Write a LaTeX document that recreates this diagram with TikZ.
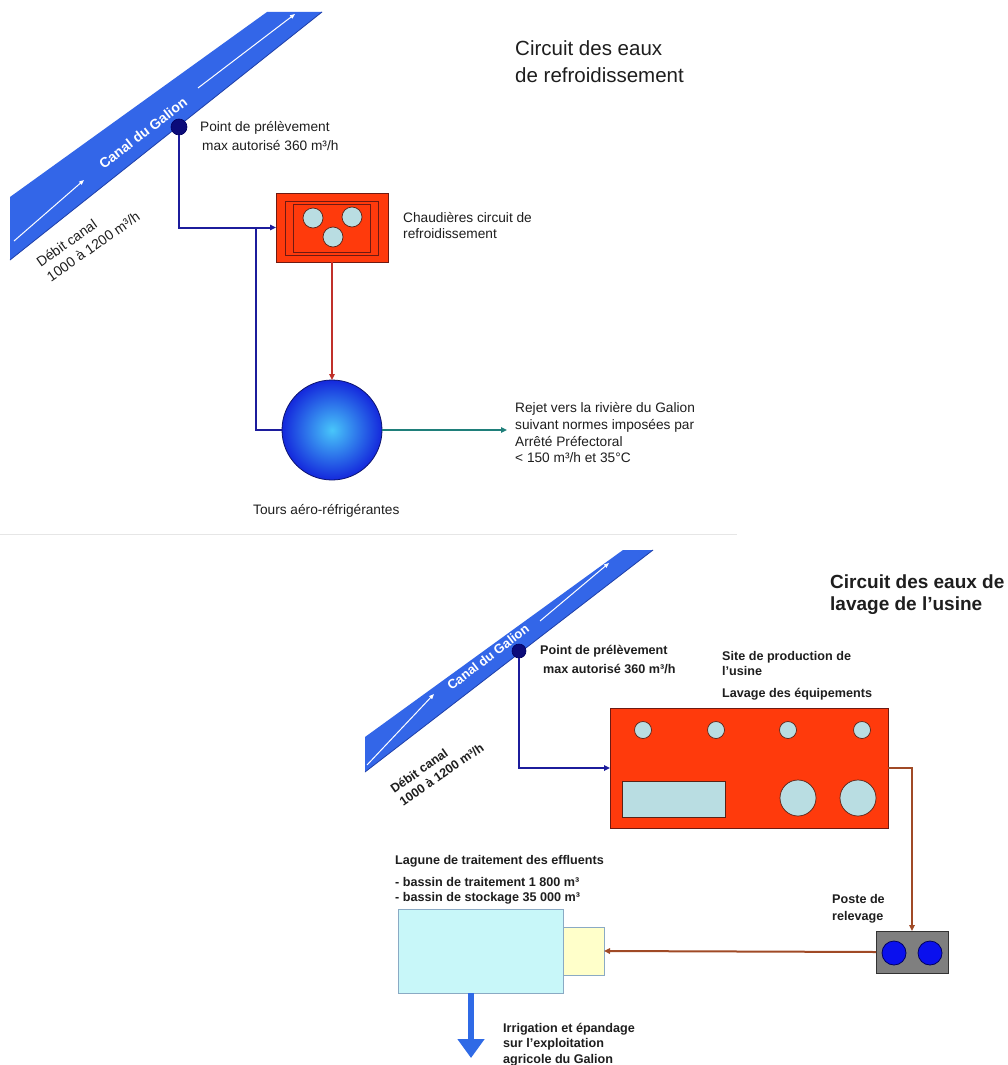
\documentclass[tikz,border=0pt]{standalone}
\usepackage{tikz}
\usepackage{fontspec}
\setmainfont{Liberation Sans}
\usetikzlibrary{arrows.meta}
\definecolor{txtc}{HTML}{1E1E1E}
\definecolor{canal}{HTML}{3366E8}
\definecolor{canaledge}{HTML}{1F3FA8}
\definecolor{dotc}{HTML}{0B0B7A}
\definecolor{navyline}{HTML}{1C1C9C}
\definecolor{boxred}{HTML}{FF3A0C}
\definecolor{boxedge}{HTML}{6E1A12}
\definecolor{vesfill}{HTML}{B9DDE2}
\definecolor{vesedge}{HTML}{5A2216}
\definecolor{redline}{HTML}{C0302A}
\definecolor{sphIn}{HTML}{48C6FA}
\definecolor{sphOut}{HTML}{1428DC}
\definecolor{sphedge}{HTML}{0C1470}
\definecolor{tealline}{HTML}{1F7F7A}
\definecolor{brownline}{HTML}{A04A26}
\definecolor{postegray}{HTML}{7F7F7F}
\definecolor{pumpblue}{HTML}{0A10EE}
\definecolor{pumpedge}{HTML}{000060}
\definecolor{lagcyan}{HTML}{C8F7F9}
\definecolor{lagedge}{HTML}{8AAAC4}
\definecolor{lagyellow}{HTML}{FFFFCA}
\definecolor{irrblue}{HTML}{2F6AE6}
\definecolor{paneledge}{HTML}{E6E6E6}
\begin{document}
\begin{tikzpicture}[x=1pt,y=-1pt,
  txt/.style={anchor=base west,inner sep=0pt,text=txtc,font=\fontsize{13.7}{16}\selectfont},
  btxt/.style={anchor=base west,inner sep=0pt,text=txtc,font=\bfseries\fontsize{12.6}{15}\selectfont},
  ttl/.style={anchor=base west,inner sep=0pt,text=txtc,font=\fontsize{20.5}{24}\selectfont},
  bttl/.style={anchor=base west,inner sep=0pt,text=txtc,font=\bfseries\fontsize{19}{22}\selectfont},
  redbox/.style={rectangle,draw=boxedge,fill=boxred,line width=0.8pt,inner sep=0pt,outer sep=0pt},
  vessel/.style={circle,draw=vesedge,fill=vesfill,line width=0.7pt,inner sep=0pt,outer sep=0pt,minimum size=#1},
  pump/.style={circle,draw=pumpedge,fill=pumpblue,line width=0.8pt,inner sep=0pt,outer sep=0pt,minimum size=24pt},
  intake/.style={circle,fill=dotc,draw=pumpedge,line width=0.6pt,inner sep=0pt,outer sep=0pt,minimum size=#1},
  flowtip/.style={-{Triangle[length=6pt,width=5.5pt]}},
  bluepipe/.style={navyline,line width=2pt},
  redpipe/.style={redline,line width=2pt},
  tealpipe/.style={tealline,line width=2pt},
  brownpipe/.style={brownline,line width=2pt},
  canalarrow/.style={white,line width=1pt,-{Triangle[length=5pt,width=4pt]}},
  canaltxt/.style={text=white,inner sep=0pt,font=\bfseries\fontsize{14}{16}\selectfont},
]
\useasboundingbox (0,0) rectangle (1008,1065);
\fill[white] (0,0) rectangle (1008,1065);

% ================= TOP PANEL =================
\draw[paneledge,line width=1pt] (0,534) -- (737,534);

% canal band
\fill[canal] (10,197) -- (267,12) -- (322,12) -- (10,260) -- cycle;
\draw[canaledge,line width=0.8pt] (10,260) -- (322,12);
\draw[canalarrow] (14,241) -- (84,180);
\draw[canalarrow] (198,88) -- (295,14);
\node[canaltxt,rotate=37.5] (canalA) at (143,133) {Canal du Galion};
\node[rotate=35,align=left,inner sep=0pt,text=txtc,font=\fontsize{14}{18}\selectfont] (debitA) at (88,239) {Débit canal\\1000 à 1200 m³/h};

% title
\node[ttl] (ttlA1) at (515,56) {Circuit des eaux};
\node[ttl] (ttlA2) at (515,82) {de refroidissement};

% intake point
\node[intake=16pt] (ptA) at (179,127) {};
\node[txt] (ptAl1) at (200,131) {Point de prélèvement};
\node[txt] (ptAl2) at (202,150) {max autorisé 360 m³/h};

% boilers
\node[redbox,minimum width=112pt,minimum height=69pt] (boiler) at (332,227.5) {};
\draw[boxedge,line width=0.8pt] (285,201) rectangle (378,255);
\draw[boxedge,line width=0.8pt] (293,204) rectangle (370,252);
\node[vessel=20pt] (bA) at (313,218) {};
\node[vessel=20pt] (bB) at (352,217) {};
\node[vessel=20pt] (bC) at (333,237) {};
\node[txt] (boilL1) at (403,222) {Chaudières circuit de};
\node[txt] (boilL2) at (403,238) {refroidissement};

% cooling tower
\node[circle,minimum size=100pt,inner sep=0pt,outer sep=0pt,draw=sphedge,line width=0.8pt,
      inner color=sphIn,outer color=sphOut] (tower) at (332,430) {};
\node[txt] (towerL) at (253,514) {Tours aéro-réfrigérantes};

% pipes
\coordinate (jA) at (256,227.5);
\draw[bluepipe,flowtip] (ptA.south) |- (boiler.west);
\draw[bluepipe] (jA) |- (tower.west);
\draw[redpipe,flowtip] (boiler.south) -- (tower.north);
\coordinate (rejEnd) at (507,430);
\draw[tealpipe,flowtip] (tower.east) -- (rejEnd);

\node[txt] (rejL1) at (515,412) {Rejet vers la rivière du Galion};
\node[txt] (rejL2) at (515,429) {suivant normes imposées par};
\node[txt] (rejL3) at (515,446) {Arrêté Préfectoral};
\node[txt] (rejL4) at (515,462) {< 150 m³/h et 35°C};

% ================= BOTTOM PANEL =================
\fill[canal] (365,737) -- (623,550) -- (653,550) -- (365,772) -- cycle;
\draw[canaledge,line width=0.8pt] (365,772) -- (653,550);
\draw[canalarrow] (367,765) -- (434,694);
\draw[canalarrow] (540,621) -- (609,563);
\node[canaltxt,rotate=37.5,font=\bfseries\fontsize{13}{15}\selectfont] (canalB) at (488,657) {Canal du Galion};
\node[rotate=35,align=left,inner sep=0pt,text=txtc,font=\bfseries\fontsize{12.5}{16}\selectfont] (debitB) at (437,768) {Débit canal\\1000 à 1200 m³/h};

\node[bttl] (ttlB1) at (830,588) {Circuit des eaux de};
\node[bttl] (ttlB2) at (830,610) {lavage de l’usine};

\node[intake=14pt] (ptB) at (519,651) {};
\node[btxt] (ptBl1) at (540,654) {Point de prélèvement};
\node[btxt] (ptBl2) at (543,673) {max autorisé 360 m³/h};

% factory
\node[redbox,minimum width=278pt,minimum height=120pt] (factory) at (749,768) {};
\node[vessel=17pt] (fA) at (643,730) {};
\node[vessel=17pt] (fB) at (716,730) {};
\node[vessel=17pt] (fC) at (788,730) {};
\node[vessel=17pt] (fD) at (862,730) {};
\node[vessel=36pt] (fE) at (798,798) {};
\node[vessel=36pt] (fF) at (858,798) {};
\node[rectangle,draw=vesedge,fill=vesfill,line width=0.7pt,inner sep=0pt,minimum width=103pt,minimum height=36pt] (fTank) at (673.5,799) {};
\node[btxt] (siteL1) at (722,660) {Site de production de};
\node[btxt] (siteL2) at (722,675) {l'usine};
\node[btxt] (siteL3) at (722,697) {Lavage des équipements};

% lift station
\node[rectangle,draw=black!80,fill=postegray,line width=0.8pt,inner sep=0pt,outer sep=0pt,minimum width=72pt,minimum height=42pt] (poste) at (912,952) {};
\node[pump] (pA) at (894,953) {};
\node[pump] (pB) at (930,953) {};
\node[btxt] (posteL1) at (832,903) {Poste de};
\node[btxt] (posteL2) at (832,920) {relevage};

% lagoon
\node[rectangle,draw=lagedge,fill=lagcyan,line width=0.8pt,inner sep=0pt,outer sep=0pt,minimum width=165pt,minimum height=84pt] (lagoon) at (480.5,951) {};
\node[rectangle,draw=lagedge,fill=lagyellow,line width=0.8pt,inner sep=0pt,outer sep=0pt,minimum width=41pt,minimum height=48pt] (lagIn) at (583.5,951) {};
\node[btxt] (lagL1) at (395,864) {Lagune de traitement des effluents};
\node[btxt] (lagL2) at (395,886) {- bassin de traitement 1 800 m³};
\node[btxt] (lagL3) at (395,901) {- bassin de stockage 35 000 m³};

% pipes
\draw[bluepipe,flowtip] (ptB.south) |- (factory.west);
\draw[brownpipe,flowtip] (factory.east) -| (poste.north);
\draw[brownpipe,flowtip] (poste.west) -- (lagIn.east);
\coordinate (irrEnd) at (471,1058);
\draw[irrblue,line width=6.7pt,-{Triangle[length=19pt,width=26pt]}] (lagoon.south -| irrEnd) -- (irrEnd);

\node[btxt] (irrL1) at (503,1032) {Irrigation et épandage};
\node[btxt] (irrL2) at (503,1047) {sur l'exploitation};
\node[btxt] (irrL3) at (503,1063) {agricole du Galion};
\end{tikzpicture}
\end{document}
